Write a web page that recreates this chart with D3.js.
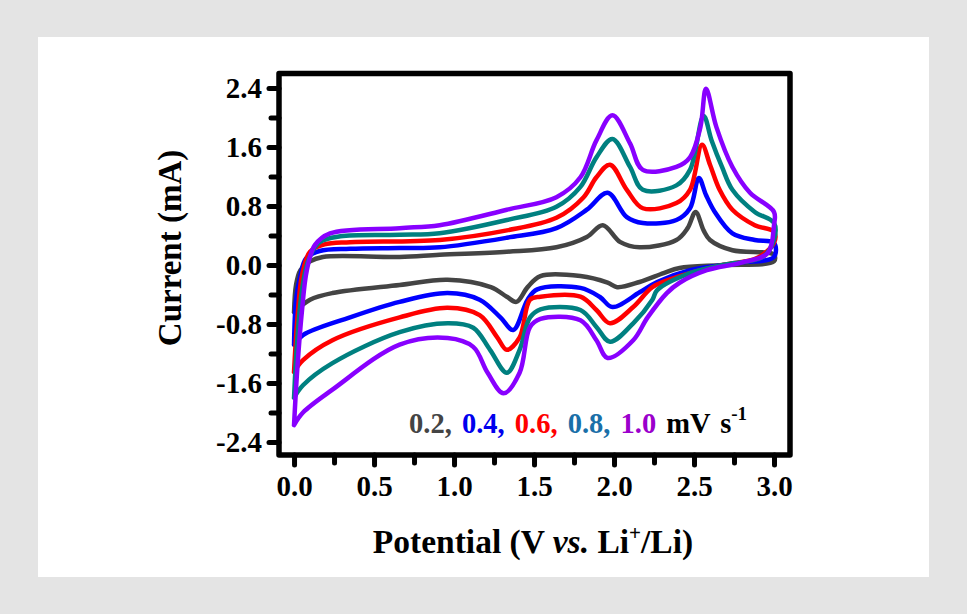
<!DOCTYPE html>
<html><head><meta charset="utf-8">
<script src="https://cdn.jsdelivr.net/npm/d3@7"></script>
<style>
html,body{margin:0;padding:0;background:#e4e4e4;}
svg{display:block;}
text{font-family:"Liberation Serif","Times New Roman",serif;font-weight:bold;}
</style></head>
<body>
<svg id="chart" width="967" height="614"></svg>
<script>
// ---- data (Potential V, Current mA) : anodic branch 0->3 V then cathodic 3->0 V ----
const scanRates = ["0.2", "0.4", "0.6", "0.8", "1.0"];
const cv02 = [[0,-0.64],[0.0125,-0.27],[0.04,-0.07],[0.1,0.05],[0.18,0.11],[0.66,0.11],[0.91,0.14],[1.33,0.18],[1.64,0.24],[1.83,0.38],[1.93,0.54],[2.04,0.31],[2.16,0.24],[2.39,0.34],[2.46,0.5],[2.51,0.72],[2.56,0.47],[2.6,0.34],[2.74,0.2],[3.0,0.14],
  [3.0,0.05],[2.68,0.0],[2.41,-0.04],[2.31,-0.11],[2.16,-0.23],[2.02,-0.3],[1.96,-0.24],[1.79,-0.15],[1.54,-0.15],[1.46,-0.3],[1.39,-0.5],[1.33,-0.43],[1.23,-0.3],[0.96,-0.2],[0.66,-0.27],[0.24,-0.38],[0.1,-0.47],[0,-0.64]];
const cv04 = [[0,-1.08],[0.0125,-0.47],[0.04,-0.14],[0.075,0.09],[0.16,0.19],[0.35,0.22],[0.66,0.23],[0.91,0.24],[1.33,0.37],[1.64,0.5],[1.83,0.75],[1.96,0.98],[2.08,0.65],[2.18,0.57],[2.39,0.61],[2.475,0.77],[2.53,1.18],[2.575,0.95],[2.63,0.72],[2.74,0.43],[2.88,0.34],[3.0,0.3],
  [3.0,0.11],[2.79,0.03],[2.475,-0.07],[2.27,-0.23],[2.16,-0.37],[1.99,-0.57],[1.91,-0.43],[1.79,-0.31],[1.52,-0.33],[1.46,-0.47],[1.37,-0.88],[1.29,-0.71],[1.16,-0.47],[0.96,-0.38],[0.66,-0.5],[0.35,-0.71],[0.056,-0.95],[0,-1.08]];
const cv06 = [[0,-1.45],[0.02,-0.75],[0.05,-0.14],[0.1,0.18],[0.19,0.28],[0.35,0.31],[0.91,0.34],[1.33,0.47],[1.64,0.64],[1.81,0.92],[1.89,1.19],[1.975,1.36],[2.08,1.02],[2.18,0.77],[2.39,0.84],[2.475,1.02],[2.55,1.63],[2.6,1.36],[2.66,1.02],[2.74,0.75],[2.88,0.54],[3.0,0.45],
  [3.0,0.3],[2.89,0.09],[2.68,0.0],[2.37,-0.18],[2.24,-0.3],[2.12,-0.57],[1.975,-0.79],[1.89,-0.61],[1.79,-0.43],[1.54,-0.43],[1.475,-0.47],[1.41,-0.98],[1.33,-1.15],[1.27,-0.98],[1.16,-0.68],[0.96,-0.58],[0.66,-0.71],[0.24,-1.02],[0.056,-1.29],[0,-1.45]];
const cv08 = [[0,-1.8],[0.02,-1.02],[0.05,-0.34],[0.09,0.07],[0.16,0.31],[0.29,0.39],[0.66,0.41],[0.91,0.43],[1.33,0.61],[1.64,0.79],[1.79,1.06],[1.89,1.46],[1.99,1.71],[2.1,1.33],[2.18,1.02],[2.39,1.08],[2.475,1.29],[2.56,2.02],[2.61,1.69],[2.675,1.33],[2.74,1.02],[2.88,0.72],[3.0,0.57],
  [3.0,0.34],[2.93,0.11],[2.68,0.0],[2.475,-0.11],[2.27,-0.34],[2.24,-0.47],[2.12,-0.79],[1.975,-1.04],[1.89,-0.84],[1.79,-0.61],[1.54,-0.6],[1.475,-0.71],[1.41,-1.15],[1.33,-1.46],[1.225,-1.15],[1.12,-0.85],[0.96,-0.79],[0.66,-0.91],[0.24,-1.33],[0.056,-1.63],[0,-1.8]];
const cv10 = [[0,-2.17],[0.02,-1.42],[0.05,-0.61],[0.08,-0.07],[0.13,0.27],[0.225,0.43],[0.66,0.5],[0.91,0.54],[1.33,0.75],[1.64,0.92],[1.79,1.19],[1.89,1.69],[1.99,2.03],[2.1,1.65],[2.18,1.29],[2.39,1.33],[2.475,1.46],[2.54,1.87],[2.575,2.39],[2.64,1.87],[2.74,1.33],[2.85,0.98],[3.0,0.72],
  [3.0,0.54],[2.96,0.16],[2.79,0.03],[2.58,-0.07],[2.41,-0.24],[2.33,-0.38],[2.21,-0.71],[2.12,-1.02],[1.96,-1.26],[1.89,-1.02],[1.79,-0.75],[1.54,-0.73],[1.475,-0.84],[1.41,-1.46],[1.31,-1.74],[1.21,-1.46],[1.12,-1.11],[0.96,-0.99],[0.66,-1.08],[0.24,-1.69],[0.056,-2.0],[0,-2.17]];
const curveColors = ["#444444", "#0000ff", "#ff0000", "#008080", "#8800ff"];
const legendColors = ["#444444", "#0000ee", "#ff0000", "#1a6fa8", "#9b00cc"];
const xTicks = [0, 0.5, 1.0, 1.5, 2.0, 2.5, 3.0];
const xMinor = [0.25, 0.75, 1.25, 1.75, 2.25, 2.75];
const yTicks = [-2.4, -1.6, -0.8, 0, 0.8, 1.6, 2.4];
const yMinor = [-2.0, -1.2, -0.4, 0.4, 1.2, 2.0];
const series = [cv02, cv04, cv06, cv08, cv10];

const svg = d3.select("#chart");
svg.append("rect").attr("x",38).attr("y",37).attr("width",891).attr("height",540).attr("fill","#ffffff");

const L=279, R=790, T=73.5, B=455;
const x = d3.scaleLinear().domain([-0.094, 3.1]).range([L, R]);
const y = d3.scaleLinear().domain([-2.576, 2.597]).range([B, T]);

// curves
const line = d3.line().x(d=>x(d[0])).y(d=>y(d[1])).curve(d3.curveCatmullRom.alpha(0.5));
const g = svg.append("g");
series.forEach((s,i)=>{
  g.append("path").attr("d", line(s)).attr("fill","none")
   .attr("stroke", curveColors[i]).attr("stroke-width",4.5)
   .attr("stroke-linejoin","round").attr("stroke-linecap","round");
});

// axes
function styleAxis(sel){
  sel.select(".domain").remove();
  sel.selectAll(".tick line").attr("stroke","#000").attr("stroke-width",5).attr("stroke-linecap","round");
  sel.selectAll(".tick text").attr("fill","#000").style("font-size","29px").style("font-weight","bold")
     .style("font-family",'"Liberation Serif","Times New Roman",serif');
}
const yAx = svg.append("g").attr("transform",`translate(${L},0)`)
  .call(d3.axisLeft(y).tickValues(yTicks).tickSize(10).tickPadding(7).tickFormat(d=>d.toFixed(1)));
styleAxis(yAx);
const yAxm = svg.append("g").attr("transform",`translate(${L},0)`)
  .call(d3.axisLeft(y).tickValues(yMinor).tickSize(8).tickFormat(""));
styleAxis(yAxm);
const xAx = svg.append("g").attr("transform",`translate(0,${B})`)
  .call(d3.axisBottom(x).tickValues(xTicks).tickSize(10).tickPadding(10).tickFormat(d=>d.toFixed(1)));
styleAxis(xAx);
const xAxm = svg.append("g").attr("transform",`translate(0,${B})`)
  .call(d3.axisBottom(x).tickValues(xMinor).tickSize(8).tickFormat(""));
styleAxis(xAxm);

// frame
svg.append("rect").attr("x",L).attr("y",T).attr("width",R-L).attr("height",B-T)
  .attr("fill","none").attr("stroke","#000").attr("stroke-width",5.5).attr("stroke-linejoin","round");

// axis titles
svg.append("text").attr("transform","translate(181,248) rotate(-90)").attr("text-anchor","middle")
  .style("font-size","33px").attr("fill","#000").text("Current (mA)");
const xt = svg.append("text").attr("x",533).attr("y",553).attr("text-anchor","middle")
  .style("font-size","33.5px").attr("fill","#000");
xt.append("tspan").text("Potential (V ");
xt.append("tspan").style("font-style","italic").text("vs.");
xt.append("tspan").text(" Li");
xt.append("tspan").attr("dy",-13).style("font-size","21px").text("+");
xt.append("tspan").attr("dy",13).text("/Li)");

// legend
const lg = svg.append("text").attr("x",409).attr("y",433).style("font-size","28.5px").style("word-spacing","3px");
scanRates.forEach((r,i)=>{
  lg.append("tspan").attr("fill",legendColors[i]).text(r + (i<scanRates.length-1 ? ", " : " "));
});
lg.append("tspan").attr("fill","#000").text("mV s");
lg.append("tspan").attr("fill","#000").attr("dy",-13).style("font-size","19px").text("-1");
</script>
</body></html>
